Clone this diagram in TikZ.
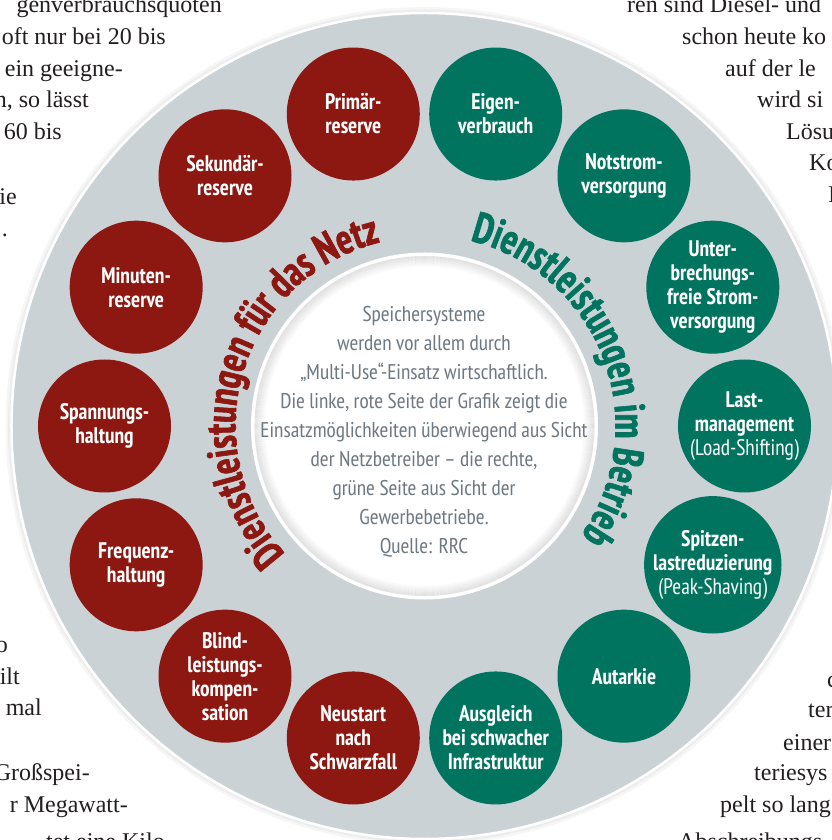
\documentclass[tikz,border=0pt]{standalone}
\usepackage{fontspec}
\setmainfont{Liberation Serif}
\IfFontExistsTF{PT Sans Narrow}
  {\newfontfamily\condfont{PT Sans Narrow}
   \newfontfamily\ballfont{PT Sans Narrow}[FakeStretch=0.95]
   \newfontfamily\headfont{PT Sans Narrow}[FakeStretch=0.87, FakeBold=1.4]}
  {\newfontfamily\condfont{PT Sans}[FakeStretch=0.82]
   \newfontfamily\ballfont{PT Sans}[FakeStretch=0.78]
   \newfontfamily\headfont{PT Sans}[FakeStretch=0.71, FakeBold=1.4]}
\usetikzlibrary{decorations.text}

\definecolor{netzred}{HTML}{8C1811}
\definecolor{betriebgreen}{HTML}{00745F}
\definecolor{ringgrey}{HTML}{CBD2D6}
\definecolor{infogrey}{HTML}{6D7982}
\definecolor{bodytext}{HTML}{231F20}

\begin{document}
\begin{tikzpicture}[x=1pt,y=1pt,
  ball/.style={circle, minimum size=133pt, inner sep=0pt, text=white, align=center,
    font=\ballfont\bfseries\fontsize{22.5}{24}\selectfont},
  netzball/.style={ball, fill=netzred},
  betriebball/.style={ball, fill=betriebgreen},
  leftline/.style={anchor=mid east, inner sep=0pt, text=bodytext,
    font=\fontsize{24}{24}\selectfont},
  rightline/.style={leftline, anchor=mid west},
  infotext/.style={align=center, text=infogrey, inner sep=0pt,
    font=\condfont\fontsize{21.3}{29}\selectfont},
]
\useasboundingbox (-424.5,-414) rectangle (406.5,426);
\fill[white] (-424.5,-414) rectangle (406.5,426);

% running text of the page, left column
\node[leftline] (l1) at (-202.5,416) {genverbrauchsquoten};
\node[leftline] (l2) at (-258.5,384) {oft nur bei 20 bis};
\node[leftline] (l3) at (-301.5,352) {ein geeigne-};
\node[leftline] (l4) at (-335.5,321) {n, so lässt};
\node[leftline] (l5) at (-362.5,289) {60 bis};
\node[leftline] (l6) at (-407.5,224) {ie};
\node[leftline] (l7) at (-416.5,192) {.};
\node[leftline] (l8) at (-416.5,-224) {o};
\node[leftline] (l9) at (-404.5,-256) {ilt};
\node[leftline] (l10) at (-382.5,-287) {mal};
\node[leftline] (l11) at (-334.5,-352) {Großspei-};
\node[leftline] (l12) at (-296.5,-384) {r Megawatt-};
\node[leftline] (l13) at (-259.5,-421) {tet eine Kilo};

% running text of the page, right column
\node[rightline] (r1) at (202.5,416) {ren sind Diesel- und};
\node[rightline] (r2) at (257.5,384) {schon heute ko};
\node[rightline] (r3) at (300.5,352) {auf der le};
\node[rightline] (r4) at (332.5,321) {wird si};
\node[rightline] (r5) at (361.5,289) {Lösu};
\node[rightline] (r6) at (384.5,258) {Ko};
\node[rightline] (r7) at (403.5,226) {I};
\node[rightline] (r8) at (402.5,-259) {c};
\node[rightline] (r9) at (383.5,-289) {ter};
\node[rightline] (r10) at (358.5,-322) {einer};
\node[rightline] (r11) at (329.5,-352) {teriesys};
\node[rightline] (r12) at (295.5,-384) {pelt so lang};
\node[rightline] (r13) at (253.5,-421) {Abschreibungs};

% grey ring with soft halo
\fill[black, opacity=0.035] (0,0) circle (419);
\fill[black, opacity=0.035] (0,0) circle (416.5);
\draw[white, line width=2.5, fill=ringgrey] (0,0) circle (413);

% white centre disc with a faint inner shadow
\draw[white, line width=3, fill=white] (0,0) circle (172);
\foreach \i [evaluate=\i as \op using 0.10*(1-\i/11)] in {0,...,10}
  \draw[black, opacity=\op, line width=1.05] (0,0) circle ({169.5-\i});

\node[infotext] (info) at (-0.5,-6) {Speichersysteme\\
  werden vor allem durch\\
  „Multi-Use“-Einsatz wirtschaftlich.\\
  Die linke, rote Seite der Grafik zeigt die\\
  Einsatzmöglichkeiten überwiegend aus Sicht\\
  der Netzbetreiber – die rechte,\\
  grüne Seite aus Sicht der\\
  Gewerbebetriebe.\\
  Quelle: RRC};

% curved headings
\path[decorate, decoration={text along path, text align=center, text color=netzred,
  text={|\headfont\bfseries\fontsize{43}{43}\selectfont|Dienstleistungen für das Netz}}]
  (243:189) arc[start angle=243, end angle=83, radius=189];
\path[decorate, decoration={text along path, text align=center, text color=betriebgreen,
  text={|\headfont\bfseries\fontsize{43}{43}\selectfont|Dienstleistungen im Betrieb}}]
  (100.5:191) arc[start angle=100.5, end angle=-59.5, radius=191];

% services for the grid
\node[netzball] (primaer) at (102.86:320) {Primär-\\reserve};
\node[netzball] (sekundaer) at (128.57:320) {Sekundär-\\reserve};
\node[netzball] (minuten) at (154.29:320) {Minuten-\\reserve};
\node[netzball] (spannung) at (180:320) {Spannungs-\\haltung};
\node[netzball] (frequenz) at (205.71:320) {Frequenz-\\haltung};
\node[netzball] (blind) at (231.43:320) {Blind-\\leistungs-\\kompen-\\sation};
\node[netzball] (neustart) at (257.14:320) {Neustart\\nach\\Schwarzfall};

% services for the business
\node[betriebball] (eigen) at (77.14:320) {Eigen-\\verbrauch};
\node[betriebball] (notstrom) at (51.43:320) {Notstrom-\\versorgung};
\node[betriebball] (usv) at (25.71:320) {Unter-\\brechungs-\\freie Strom-\\versorgung};
\node[betriebball] (last) at (0:320) {Last-\\management\\{\mdseries(Load-Shifting)}};
\node[betriebball] (spitze) at (-25.71:320) {Spitzen-\\lastreduzierung\\{\mdseries(Peak-Shaving)}};
\node[betriebball] (autarkie) at (-51.43:320) {Autarkie};
\node[betriebball] (ausgleich) at (-77.14:320) {Ausgleich\\bei schwacher\\Infrastruktur};
\end{tikzpicture}
\end{document}
